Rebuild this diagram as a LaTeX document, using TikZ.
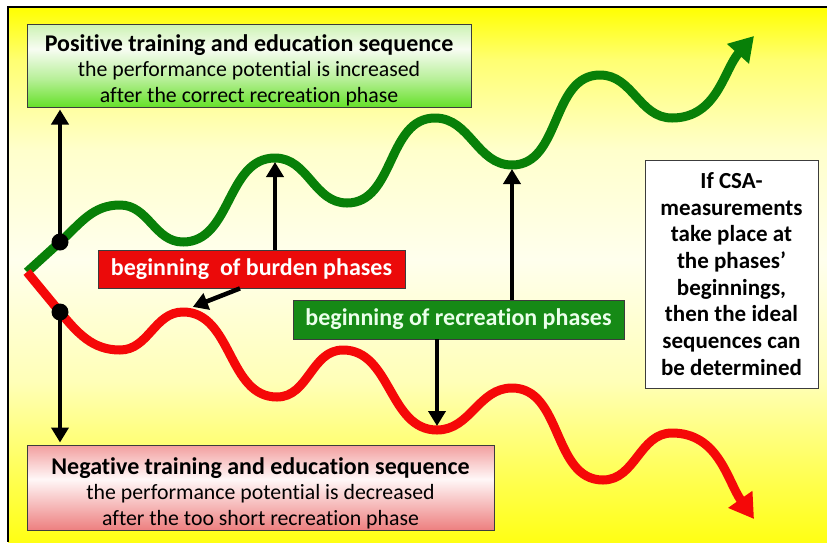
\documentclass[tikz,border=0pt]{standalone}
\usepackage{fontspec}
\setmainfont[Ligatures=NoCommon]{Carlito}
\usetikzlibrary{arrows.meta}

% background: yellow at the edges, pale in the middle
\pgfdeclareverticalshading{bgshade}{100bp}{rgb(0bp)=(1,1,0.08); rgb(25bp)=(1,1,0.08); rgb(31.7bp)=(1,1,0.35); rgb(40bp)=(1,1,0.72); rgb(51.4bp)=(1,1,0.93); rgb(61.6bp)=(1,1,0.80); rgb(70bp)=(1,1,0.45); rgb(75bp)=(1,1,0); rgb(100bp)=(1,1,0)}
% box fills
\pgfdeclareverticalshading{greenboxshade}{100bp}{rgb(0bp)=(0.40,0.88,0.16); rgb(25bp)=(0.40,0.88,0.16); rgb(42bp)=(0.72,0.94,0.60); rgb(60bp)=(0.97,0.99,0.95); rgb(75bp)=(0.80,0.95,0.70); rgb(100bp)=(0.80,0.95,0.70)}
\pgfdeclareverticalshading{redboxshade}{100bp}{rgb(0bp)=(0.93,0.50,0.50); rgb(25bp)=(0.93,0.50,0.50); rgb(55bp)=(1,0.97,0.97); rgb(75bp)=(0.95,0.62,0.62); rgb(100bp)=(0.95,0.62,0.62)}

\definecolor{curvegreen}{RGB}{8,128,8}
\definecolor{curvered}{RGB}{245,8,8}
\definecolor{labelred}{RGB}{235,10,10}
\definecolor{labelgreen}{RGB}{22,138,22}
\definecolor{labeltext}{RGB}{235,255,235}
\definecolor{boxline}{RGB}{60,60,60}

\tikzset{
  x=1pt, y=-1pt,
  seqbox/.style={draw=boxline, line width=1pt, shade, inner sep=0pt},
  seqtext/.style={align=center, font=\fontsize{21.8}{25.5}\selectfont, inner sep=0pt},
  phaselabel/.style={draw=boxline, line width=0.8pt, inner sep=0pt, font=\fontsize{24}{28}\bfseries, text=white},
  wave/.style={line width=9pt, line cap=butt, line join=round},
  pointer/.style={line width=4.5pt, -{Triangle[length=15pt,width=17pt]}},
  junction/.style={circle, fill=black, minimum size=17pt, inner sep=0pt},
}

\begin{document}
\begin{tikzpicture}
\useasboundingbox (0,0) rectangle (827,542);
\fill[white] (0,0) rectangle (827,542);
\shade[shading=bgshade] (8,7) rectangle (827,542);
\draw[line width=1.5pt] (827,7) -- (8,7) -- (8,542);

% curve way points: extrema of the two waves
\coordinate (start) at (27,272);
\coordinate (g0) at (60,242);
\coordinate (g1) at (120,205);
\coordinate (g2) at (183,242);
\coordinate (g3) at (275,158);
\coordinate (g4) at (347,203);
\coordinate (g5) at (435,118);
\coordinate (g6) at (512,165);
\coordinate (g7) at (600,75);
\coordinate (g8) at (672,118);
\coordinate (gtip) at (754,36);
\coordinate (r0) at (60,312);
\coordinate (r1) at (120,350);
\coordinate (r2) at (183,312);
\coordinate (r3) at (277,397);
\coordinate (r4) at (343,350);
\coordinate (r5) at (437,430);
\coordinate (r6) at (512,388);
\coordinate (r7) at (603,480);
\coordinate (r8) at (672,433);
\coordinate (rtip) at (754,519);

% rising wave
\draw[wave, curvegreen, -{Triangle[length=24pt,width=28pt]}] (start) -- (g0)
  to[out=42,in=180] (g1) to[out=0,in=180] (g2) to[out=0,in=180] (g3)
  to[out=0,in=180] (g4) to[out=0,in=180] (g5) to[out=0,in=180] (g6)
  to[out=0,in=180] (g7) to[out=0,in=180] (g8) to[out=0,in=228] (gtip);
% falling wave
\draw[wave, curvered, -{Triangle[length=24pt,width=28pt]}] (start) -- (r0)
  to[out=-50,in=180] (r1) to[out=0,in=180] (r2) to[out=0,in=180] (r3)
  to[out=0,in=180] (r4) to[out=0,in=180] (r5) to[out=0,in=180] (r6)
  to[out=0,in=180] (r7) to[out=0,in=180] (r8) to[out=0,in=125] (rtip);

% boxes
\node[seqbox, shading=greenboxshade, minimum width=444pt, minimum height=83pt] (posbox) at (249,65.5) {};
\node[seqtext] (postext) at (249,70) {{\fontsize{24}{25.5}\bfseries Positive training and education sequence}\\the performance potential is increased\\after the correct recreation phase};
\node[seqbox, shading=redboxshade, minimum width=467pt, minimum height=85pt] (negbox) at (260.5,487.5) {};
\node[seqtext] (negtext) at (260.5,493) {{\fontsize{24}{25.5}\bfseries Negative training and education sequence}\\the performance potential is decreased\\after the too short recreation phase};

\node[draw=boxline, fill=white, line width=1pt, minimum width=173pt, minimum height=228pt, inner sep=0pt] (csabox) at (731.5,274) {};
\node[align=center, inner sep=0pt, font=\fontsize{23}{26.7}\bfseries] (csatext) at (731.5,274) {If CSA-\\measurements\\take place at\\the phases’\\beginnings,\\then the ideal\\sequences can\\be determined};

\node[phaselabel, fill=labelred, minimum width=307pt, minimum height=38pt] (burden) at (251.5,269) {beginning\ \ of burden phases};
\node[phaselabel, fill=labelgreen, text=labeltext, minimum width=331pt, minimum height=39pt] (recreation) at (458.5,319.5) {beginning of recreation phases};

% junction dots and pointers
\node[junction] (dotup) at (g0) {};
\node[junction] (dotdown) at (r0) {};
\draw[pointer, shorten >=2pt] (dotup.center) -- (dotup.center |- posbox.south);
\draw[pointer, shorten >=2pt] (dotdown.center) -- (dotdown.center |- negbox.north);
\draw[pointer, shorten >=4pt] (burden.north -| g3) -- (g3);
\draw[pointer, shorten >=3pt] (burden.south -| 240,0) -- (190,308);
\draw[pointer, shorten >=4pt] (recreation.north -| g6) -- (g6);
\draw[pointer, shorten >=4pt] (recreation.south -| r5) -- (r5);
\end{tikzpicture}
\end{document}
